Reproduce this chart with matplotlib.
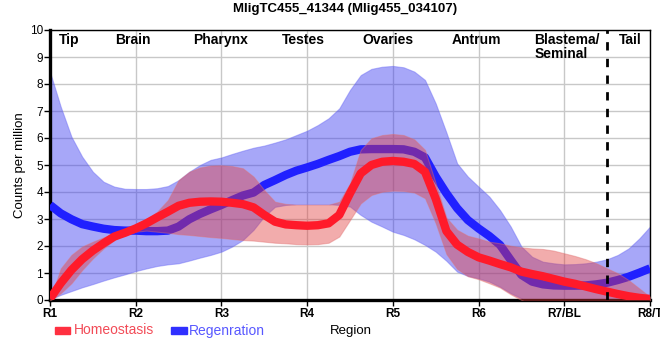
import numpy as np
import matplotlib
matplotlib.use("Agg")
import matplotlib.pyplot as plt
from matplotlib.patches import Rectangle

plt.rcParams["font.family"] = ["Liberation Sans", "DejaVu Sans"]

# position along the body, in region units (R1 = 0 ... R8/T = 7), read every 1/8
pos = np.arange(57) / 8

tick_labels = ["R1", "R2", "R3", "R4", "R5", "R6", "R7/BL", "R8/T"]

homeo_mean = [0.05, 0.62, 1.11, 1.51, 1.83, 2.1, 2.35, 2.49,
              2.65, 2.84, 3.06, 3.27, 3.49, 3.6, 3.64, 3.65,
              3.64, 3.6, 3.55, 3.43, 3.15, 2.9, 2.8, 2.77,
              2.75, 2.77, 2.84, 3.15, 3.95, 4.69, 5.0, 5.12,
              5.15, 5.12, 5.04, 4.75, 3.75, 2.55, 2.05, 1.78,
              1.58, 1.46, 1.33, 1.21, 1.05, 0.96, 0.88, 0.78,
              0.68, 0.6, 0.5, 0.4, 0.31, 0.22, 0.14, 0.08,
              0.04]
homeo_upper = [0.02, 1.17, 1.67, 1.98, 2.16, 2.32, 2.47, 2.62,
               2.75, 2.99, 3.27, 3.7, 4.44, 4.75, 4.91, 4.98,
               4.99, 4.96, 4.88, 4.57, 4.07, 3.64, 3.56, 3.53,
               3.53, 3.53, 3.53, 3.64, 4.32, 5.56, 5.99, 6.11,
               6.15, 6.11, 5.95, 5.56, 4.32, 3.05, 2.6, 2.38,
               2.28, 2.16, 2.1, 2.01, 1.95, 1.91, 1.89, 1.83,
               1.73, 1.63, 1.51, 1.36, 1.17, 0.99, 0.74, 0.43,
               0.12]
homeo_lower = [-0.02, 0.25, 0.62, 1.11, 1.54, 1.91, 2.22, 2.41,
               2.53, 2.57, 2.53, 2.49, 2.44, 2.41, 2.37, 2.33,
               2.3, 2.26, 2.22, 2.2, 2.16, 2.12, 2.1, 2.07,
               2.06, 2.07, 2.12, 2.35, 2.96, 3.58, 3.89, 4.01,
               4.05, 4.04, 3.98, 3.77, 2.84, 1.7, 1.15, 0.88,
               0.77, 0.62, 0.46, 0.21, 0.0, -0.2, -0.4, -0.5,
               -0.5, -0.5, -0.5, -0.5, -0.5, -0.5, -0.4, -0.3,
               -0.1]

regen_mean = [3.52, 3.21, 2.99, 2.81, 2.72, 2.64, 2.59, 2.57,
              2.57, 2.55, 2.55, 2.57, 2.72, 2.99, 3.19, 3.36,
              3.52, 3.7, 3.87, 3.98, 4.26, 4.44, 4.63, 4.79,
              4.91, 5.04, 5.19, 5.33, 5.49, 5.58, 5.59, 5.59,
              5.59, 5.58, 5.49, 5.28, 4.57, 3.95, 3.4, 2.96,
              2.65, 2.37, 2.04, 1.48, 0.93, 0.68, 0.58, 0.54,
              0.53, 0.53, 0.54, 0.58, 0.64, 0.74, 0.86, 1.01,
              1.17]
regen_upper = [8.45, 7.16, 6.05, 5.31, 4.75, 4.38, 4.2, 4.12,
               4.11, 4.11, 4.14, 4.22, 4.44, 4.75, 5.0, 5.19,
               5.28, 5.41, 5.53, 5.64, 5.72, 5.83, 5.95, 6.11,
               6.27, 6.48, 6.73, 7.1, 7.78, 8.33, 8.56, 8.64,
               8.67, 8.62, 8.46, 8.15, 7.28, 6.2, 5.06, 4.57,
               4.2, 3.83, 3.33, 2.72, 1.98, 1.6, 1.42, 1.36,
               1.32, 1.33, 1.36, 1.42, 1.51, 1.67, 1.91, 2.28,
               2.72]
regen_lower = [0.02, 0.19, 0.33, 0.47, 0.59, 0.72, 0.84, 0.95,
               1.07, 1.17, 1.26, 1.32, 1.36, 1.46, 1.57, 1.67,
               1.79, 1.98, 2.22, 2.6, 3.1, 3.45, 3.52, 3.55,
               3.55, 3.55, 3.55, 3.52, 3.46, 3.15, 2.9, 2.72,
               2.53, 2.41, 2.25, 2.04, 1.79, 1.45, 1.05, 0.89,
               0.8, 0.68, 0.49, 0.25, 0.06, -0.2, -0.4, -0.5,
               -0.5, -0.5, -0.5, -0.5, -0.5, -0.5, -0.5, -0.4,
               -0.3]

region_names = ["Tip", "Brain", "Pharynx", "Testes", "Ovaries", "Antrum",
                "Blastema/\nSeminal", "Tail"]
region_pos = [0.22, 0.97, 1.99, 2.96, 3.94, 4.98, 5.65, 6.77]

fig = plt.figure(figsize=(6.6, 3.6), dpi=100)
ax = fig.add_axes([50 / 660, 60 / 360, 600 / 660, 270 / 360])

# bands and lines (blue first, red on top)
ax.fill_between(pos, regen_lower, regen_upper, color="#3c3cf0", alpha=0.45, lw=0.8,
                edgecolor="#6a6af5", zorder=2)
ax.plot(pos, regen_mean, color="#2020ff", lw=6, solid_capstyle="butt",
        solid_joinstyle="round", zorder=3)
ax.fill_between(pos, homeo_lower, homeo_upper, color="#e23a3a", alpha=0.42, lw=0.8,
                edgecolor="#e07070", zorder=4)
ax.plot(pos, homeo_mean, color="#ff1a2a", lw=6, solid_capstyle="butt",
        solid_joinstyle="round", zorder=5)

ax.axvline(6.5, color="black", lw=2, ls=(0, (3, 3)), zorder=6)

ax.set_xlim(0, 7)
ax.set_ylim(0, 10)
ax.set_xticks(range(8))
ax.set_xticklabels(tick_labels, fontsize=8.5, fontweight="bold")
ax.set_yticks(range(11))
ax.tick_params(axis="y", labelsize=8.5, length=4, width=1, pad=1)
ax.tick_params(axis="x", length=4, width=1, pad=2)
ax.grid(True, color="#c8c8c8", lw=1)
ax.set_axisbelow(True)

for side in ["left", "bottom"]:
    ax.spines[side].set_linewidth(2.4)
for side in ["top", "right"]:
    ax.spines[side].set_linewidth(1)

for name, x in zip(region_names, region_pos):
    ha = "left" if "/" in name else "center"
    ax.text(x, 9.9, name, ha=ha, va="top", fontsize=10, fontweight="bold",
            linespacing=1.0, zorder=7)

fig.text(345 / 660, 1 - 9 / 360, "MligTC455_41344 (Mlig455_034107)", ha="center",
         va="center", fontsize=9.5, fontweight="bold")
fig.text(20 / 660, 1 - 165 / 360, "Counts per million", rotation=90, ha="center",
         va="center", fontsize=9.5)
fig.text(351 / 660, 1 - 331 / 360, "Region", ha="center", va="center", fontsize=9.5)

# legend drawn by hand
fig.patches.append(Rectangle((55 / 660, 1 - 334 / 360), 15 / 660, 7 / 360,
                             color="#ff3040", transform=fig.transFigure))
fig.text(74 / 660, 1 - 330.5 / 360, "Homeostasis", color="#f24b57", ha="left",
         va="center", fontsize=10)
fig.patches.append(Rectangle((171 / 660, 1 - 334 / 360), 16 / 660, 7 / 360,
                             color="#3030ff", transform=fig.transFigure))
fig.text(189 / 660, 1 - 330.5 / 360, "Regenration", color="#5858ff", ha="left",
         va="center", fontsize=10)

fig.savefig("out.png", dpi=100)
